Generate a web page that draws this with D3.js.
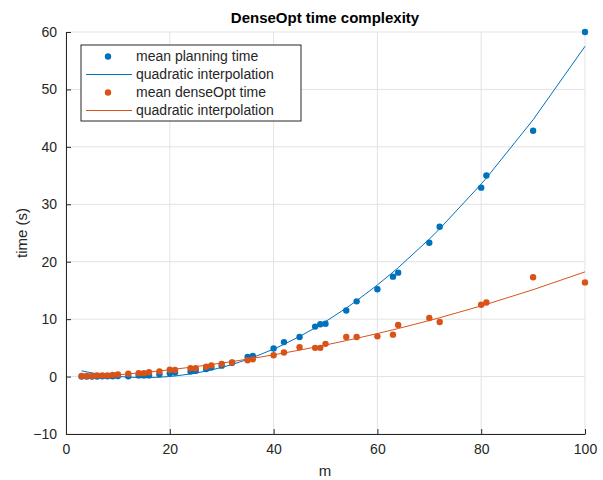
<!DOCTYPE html>
<html>
<head>
<meta charset="utf-8">
<script src="https://cdn.jsdelivr.net/npm/d3@7"></script>
<style>
  body { margin: 0; background: #fff; }
  svg { font-family: "Liberation Sans", Arial, Helvetica, sans-serif; }
</style>
</head>
<body>
<svg id="chart" width="603" height="480"></svg>
<script>
// problem size m and measured times (s)
const mValues = [3, 4, 5, 6, 7, 8, 9, 10, 12, 14, 15, 16, 18, 20, 21, 24, 25, 27, 28, 30,
                 32, 35, 36, 40, 42, 45, 48, 49, 50, 54, 56, 60, 63, 64, 70, 72, 80, 81, 90, 100];
const planningTime = [0.0, 0.0, 0.0, 0.0, 0.05, 0.05, 0.05, 0.1, 0.05, 0.2, 0.2, 0.2, 0.4, 0.6, 0.7, 0.9, 1.0, 1.3, 1.6, 1.9,
                      2.4, 3.4, 3.6, 4.9, 6.0, 6.9, 8.7, 9.1, 9.2, 11.5, 13.1, 15.2, 17.4, 18.1, 23.3, 26.1, 32.9, 35.0, 42.8, 60.0];
const denseOptTime = [0.1, 0.1, 0.1, 0.2, 0.2, 0.2, 0.3, 0.35, 0.5, 0.6, 0.6, 0.75, 0.9, 1.2, 1.15, 1.45, 1.45, 1.7, 1.95, 2.2,
                      2.45, 2.85, 3.0, 3.7, 4.2, 5.1, 5.0, 5.0, 5.7, 6.9, 6.9, 7.0, 7.3, 9.0, 10.2, 9.5, 12.5, 12.9, 17.3, 16.4];

const xTicks = [0, 20, 40, 60, 80, 100];
const yTicks = [-10, 0, 10, 20, 30, 40, 50, 60];
const legendLabels = ["mean planning time", "quadratic interpolation", "mean denseOpt time", "quadratic interpolation"];

const blue = "#0072BD";
const orange = "#D95319";
const axisColor = "#262626";
const gridColor = "#e3e3e3";

const margin = {left: 66, right: 18, top: 32, bottom: 46};
const width = 603, height = 480;

let xScale = d3.scaleLinear().domain([0, 100]).range([margin.left, width - margin.right]);
let yScale = d3.scaleLinear().domain([-10, 60]).range([height - margin.bottom, margin.top]);

// least squares quadratic fit (like polyfit(x, y, 2))
function quadFit(xs, ys) {
    let S = [0, 0, 0, 0, 0], T = [0, 0, 0];
    xs.forEach((x, i) => {
        for (let k = 0; k < 5; k++) S[k] += Math.pow(x, k);
        for (let k = 0; k < 3; k++) T[k] += Math.pow(x, k) * ys[i];
    });
    let A = [[S[0], S[1], S[2], T[0]], [S[1], S[2], S[3], T[1]], [S[2], S[3], S[4], T[2]]];
    for (let i = 0; i < 3; i++) {
        for (let j = i + 1; j < 3; j++) {
            const f = A[j][i] / A[i][i];
            for (let k = i; k < 4; k++) A[j][k] -= f * A[i][k];
        }
    }
    let c = [0, 0, 0];
    for (let i = 2; i >= 0; i--) {
        let s = A[i][3];
        for (let k = i + 1; k < 3; k++) s -= A[i][k] * c[k];
        c[i] = s / A[i][i];
    }
    return x => c[0] + c[1] * x + c[2] * x * x;
}

const svg = d3.select("#chart");

// grid
svg.append("g").selectAll("line.vgrid").data(xTicks).enter().append("line")
    .attr("x1", d => xScale(d)).attr("x2", d => xScale(d))
    .attr("y1", yScale(-10)).attr("y2", yScale(60))
    .attr("stroke", gridColor).attr("stroke-width", 1);
svg.append("g").selectAll("line.hgrid").data(yTicks).enter().append("line")
    .attr("x1", xScale(0)).attr("x2", xScale(100))
    .attr("y1", d => yScale(d)).attr("y2", d => yScale(d))
    .attr("stroke", gridColor).attr("stroke-width", 1);

// axes with inward ticks
let xAxis = svg.append("g")
    .attr("transform", `translate(0,${yScale(-10)})`)
    .call(d3.axisBottom(xScale).tickValues(xTicks).tickSizeInner(-5).tickSizeOuter(0).tickPadding(10));
let yAxis = svg.append("g")
    .attr("transform", `translate(${xScale(0)},0)`)
    .call(d3.axisLeft(yScale).tickValues(yTicks).tickSizeInner(-5).tickSizeOuter(0).tickPadding(9));
[xAxis, yAxis].forEach(ax => {
    ax.select(".domain").attr("stroke", axisColor);
    ax.selectAll(".tick line").attr("stroke", axisColor);
    ax.selectAll(".tick text").attr("fill", axisColor).attr("font-size", 14)
        .attr("font-family", "'Liberation Sans', Arial, sans-serif");
});

// series
const series = [
    {values: planningTime, color: blue},
    {values: denseOptTime, color: orange}
];
const line = d3.line().x(d => xScale(d[0])).y(d => yScale(d[1]));

series.forEach(s => {
    const fit = quadFit(mValues, s.values);
    svg.append("g").selectAll("circle").data(mValues).enter().append("circle")
        .attr("cx", d => xScale(d))
        .attr("cy", (d, i) => yScale(s.values[i]))
        .attr("r", 3.2)
        .attr("fill", s.color);
    svg.append("path")
        .datum(mValues.map(m => [m, fit(m)]))
        .attr("d", line)
        .attr("fill", "none")
        .attr("stroke", s.color)
        .attr("stroke-width", 1);
});

// title and axis labels
svg.append("text").attr("x", 325).attr("y", 23).attr("text-anchor", "middle")
    .attr("font-size", 15).attr("font-weight", "bold").attr("fill", "#000")
    .text("DenseOpt time complexity");
svg.append("text").attr("x", 325).attr("y", 476).attr("text-anchor", "middle")
    .attr("font-size", 15).attr("fill", axisColor).text("m");
svg.append("text").attr("transform", "translate(27,233) rotate(-90)").attr("text-anchor", "middle")
    .attr("font-size", 15).attr("fill", axisColor).text("time (s)");

// legend
const legend = svg.append("g").attr("transform", "translate(81,45)");
legend.append("rect").attr("width", 220).attr("height", 76)
    .attr("fill", "#fff").attr("stroke", axisColor).attr("stroke-width", 1);
const rows = legend.selectAll("g.row").data(legendLabels).enter().append("g")
    .attr("transform", (d, i) => `translate(0,${11.5 + i * 18})`);
rows.each(function(d, i) {
    const g = d3.select(this);
    const c = i < 2 ? blue : orange;
    if (i % 2 === 0) {
        g.append("circle").attr("cx", 27).attr("cy", 0).attr("r", 3.2).attr("fill", c);
    } else {
        g.append("line").attr("x1", 5).attr("x2", 51).attr("y1", 0).attr("y2", 0)
            .attr("stroke", c).attr("stroke-width", 1);
    }
    g.append("text").attr("x", 55).attr("y", 0).attr("dy", "0.35em")
        .attr("font-size", 14).attr("fill", axisColor).text(d);
});
</script>
</body>
</html>
